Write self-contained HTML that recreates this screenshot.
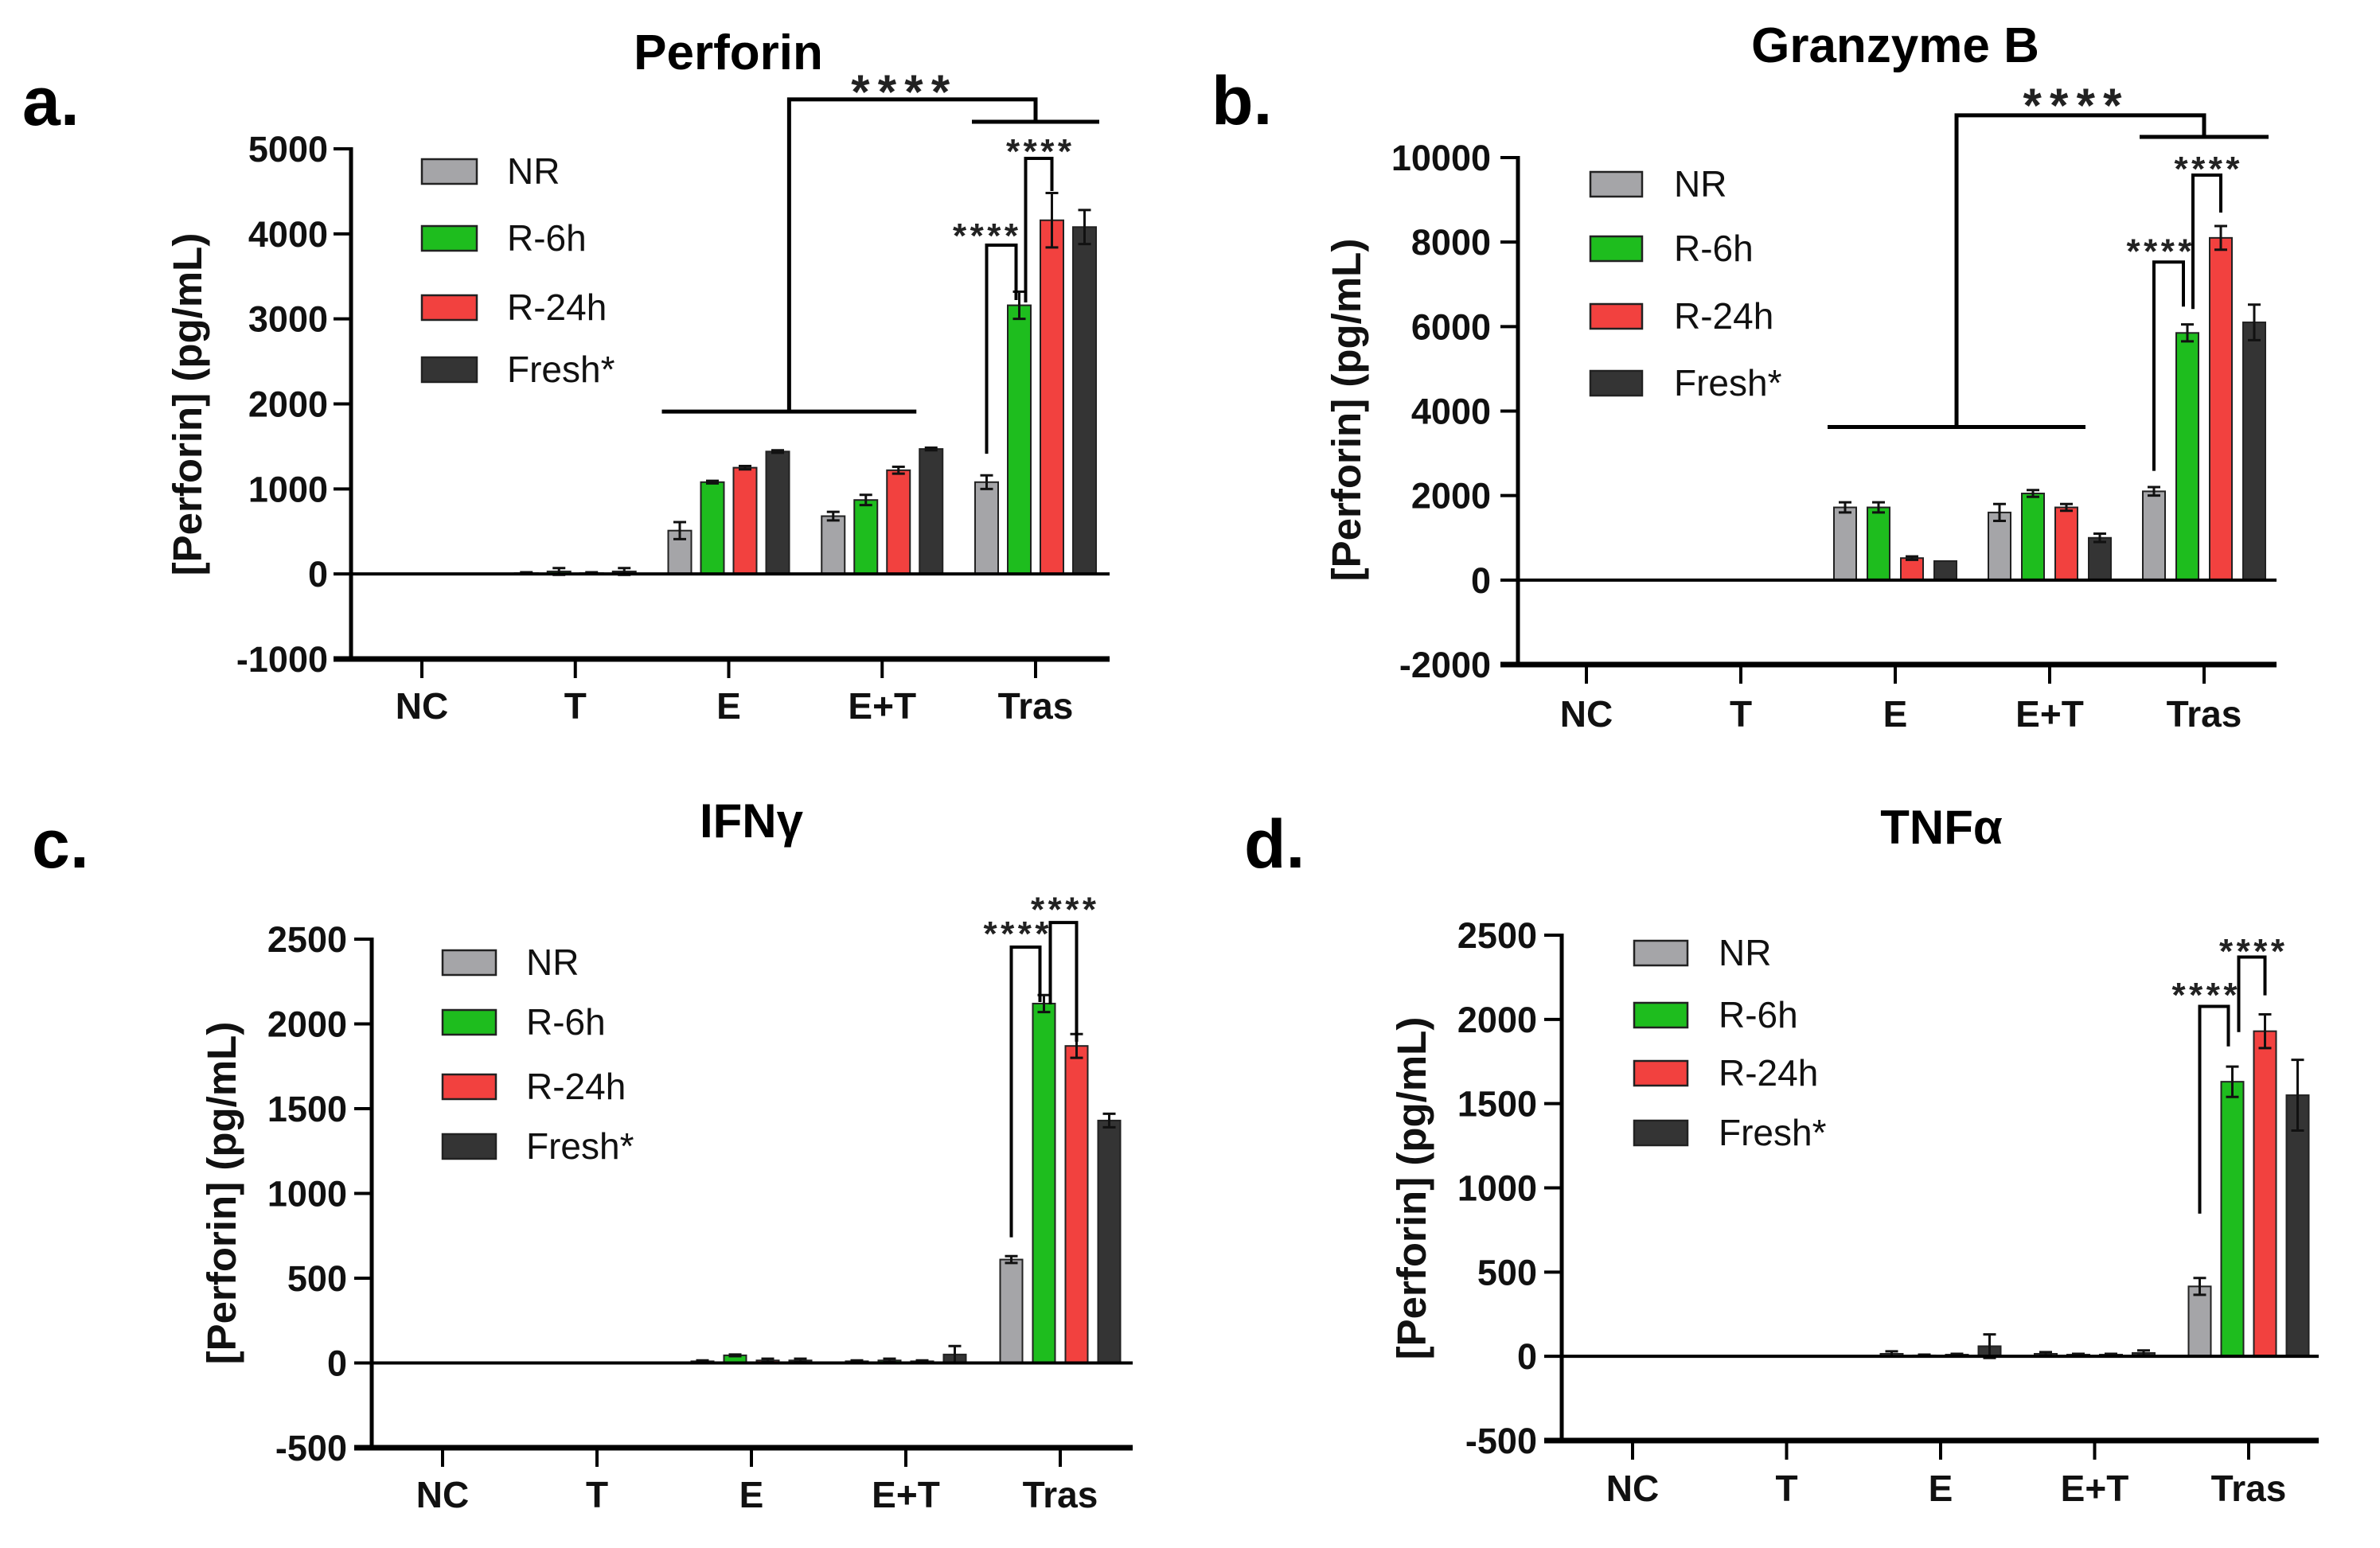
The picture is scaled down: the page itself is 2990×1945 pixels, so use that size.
<!DOCTYPE html>
<html><head><meta charset="utf-8"><style>
html,body{margin:0;padding:0;background:#fff;}
svg{display:block;font-family:"Liberation Sans",Arial,sans-serif;}
</style></head><body>
<svg id="fig" width="2990" height="1945" viewBox="0 0 2990 1945" xmlns="http://www.w3.org/2000/svg"></svg>
<script>
const categories = ["NC","T","E","E+T","Tras"];
const seriesNames = ["NR","R-6h","R-24h","Fresh*"];
const seriesColors = ["#a5a5a8","#1ebd1e","#f2413f","#343434"];

// Perforin
const perforinNR = [0,10,510,680,1080];
const perforinR6 = [0,30,1080,870,3160];
const perforinR24 = [0,10,1250,1220,4160];
const perforinFresh = [0,30,1440,1470,4080];
const perforinErrNR = [0,10,100,50,80];
const perforinErrR6 = [0,40,15,60,160];
const perforinErrR24 = [0,10,20,40,320];
const perforinErrFresh = [0,40,15,15,200];
const perforinTicks = [-1000,0,1000,2000,3000,4000,5000];

// Granzyme B
const granzymeNR = [0,0,1720,1600,2100];
const granzymeR6 = [0,0,1720,2050,5850];
const granzymeR24 = [0,0,520,1720,8100];
const granzymeFresh = [0,0,450,1000,6100];
const granzymeErrNR = [0,0,120,200,100];
const granzymeErrR6 = [0,0,120,80,200];
const granzymeErrR24 = [0,0,40,80,280];
const granzymeErrFresh = [0,0,0,100,420];
const granzymeTicks = [-2000,0,2000,4000,6000,8000,10000];

// IFNy
const ifnNR = [0,0,10,10,610];
const ifnR6 = [0,0,45,15,2120];
const ifnR24 = [0,0,15,10,1870];
const ifnFresh = [0,0,15,50,1430];
const ifnErrNR = [0,0,5,5,20];
const ifnErrR6 = [0,0,5,10,50];
const ifnErrR24 = [0,0,10,5,70];
const ifnErrFresh = [0,0,10,50,40];
const ifnTicks = [-500,0,500,1000,1500,2000,2500];

// TNFa
const tnfNR = [0,0,15,15,415];
const tnfR6 = [0,0,5,10,1630];
const tnfR24 = [0,0,10,10,1930];
const tnfFresh = [0,0,60,20,1550];
const tnfErrNR = [0,0,15,10,50];
const tnfErrR6 = [0,0,5,5,90];
const tnfErrR24 = [0,0,5,5,100];
const tnfErrFresh = [0,0,70,15,210];
const tnfTicks = [-500,0,500,1000,1500,2000,2500];

const NS = "http://www.w3.org/2000/svg";
const svg = document.getElementById("fig");
function mk(tag, attrs, parent, text){
  const e = document.createElementNS(NS, tag);
  for (const k in attrs) e.setAttribute(k, attrs[k]);
  if (text !== undefined) e.textContent = text;
  (parent||svg).appendChild(e);
  return e;
}

const panels = [
 {key:"perforin", letter:"a.", title:"Perforin", series:[perforinNR,perforinR6,perforinR24,perforinFresh],
  errs:[perforinErrNR,perforinErrR6,perforinErrR24,perforinErrFresh], ticks:perforinTicks,
  axisX:441, axisRight:1394, yMaxPx:187, yMinPx:828, firstTick:530, spacing:192.75, barStep:41, barW:29,
  labelRight:412, catBase:903, titleX:915, titleBase:87, titleSize:62, letterX:28, letterBase:157,
  yTitleX:235, yTitleY:508, legX:530, legW:69, legYs:[215,299,386,464], legTextX:637,
  pairs:[{a:[4,0],b:[4,1],dxa:0,dxb:-4,top:3867,la:1414,lb:3221,star:4064,sx:-20},
         {a:[4,1],b:[4,2],dxa:8,dxb:0,top:4888,la:3193,lb:4504,star:5056,sx:0}],
  group:{left:[2,3],right:[4],lowL:1910,lowR:5318,top:5581,star:5787,sx:-15}},
 {key:"granzyme", letter:"b.", title:"Granzyme B", series:[granzymeNR,granzymeR6,granzymeR24,granzymeFresh],
  errs:[granzymeErrNR,granzymeErrR6,granzymeErrR24,granzymeErrFresh], ticks:granzymeTicks,
  axisX:1907, axisRight:2860, yMaxPx:198, yMinPx:835, firstTick:1993, spacing:194, barStep:42, barW:28,
  labelRight:1873, catBase:913, titleX:2381, titleBase:78, titleSize:62, letterX:1522, letterBase:156,
  yTitleX:1691, yTitleY:515, legX:1998, legW:65, legYs:[231,312,397,481], legTextX:2103,
  pairs:[{a:[4,0],b:[4,1],dxa:0,dxb:-5,top:7528,la:2585,lb:6472,star:7962,sx:-12},
         {a:[4,1],b:[4,2],dxa:7,dxb:0,top:9585,la:6415,lb:8698,star:9906,sx:0}],
  group:{left:[2,3],right:[4],lowL:3623,lowR:10490,top:11000,star:11472,sx:-10}},
 {key:"ifn", letter:"c.", title:"IFN\u03b3", series:[ifnNR,ifnR6,ifnR24,ifnFresh],
  errs:[ifnErrNR,ifnErrR6,ifnErrR24,ifnErrFresh], ticks:ifnTicks,
  axisX:467, axisRight:1423, yMaxPx:1180, yMinPx:1819, firstTick:556, spacing:194, barStep:41, barW:28,
  labelRight:436, catBase:1894, titleX:944, titleBase:1052, titleSize:60, letterX:40, letterBase:1090,
  yTitleX:278, yTitleY:1499, legX:556, legW:67, legYs:[1209,1284,1365,1440], legTextX:661,
  pairs:[{a:[4,0],b:[4,1],dxa:0,dxb:-5,top:2453,la:741,lb:2129,star:2575,sx:-12},
         {a:[4,1],b:[4,2],dxa:8,dxb:0,top:2598,la:2115,lb:1895,star:2720,sx:0}],
  group:null},
 {key:"tnf", letter:"d.", title:"TNF\u03b1", series:[tnfNR,tnfR6,tnfR24,tnfFresh],
  errs:[tnfErrNR,tnfErrR6,tnfErrR24,tnfErrFresh], ticks:tnfTicks,
  axisX:1962, axisRight:2913, yMaxPx:1175, yMinPx:1810, firstTick:2051, spacing:193.5, barStep:41, barW:28,
  labelRight:1931, catBase:1886, titleX:2439, titleBase:1060, titleSize:60, letterX:1563, letterBase:1090,
  yTitleX:1773, yTitleY:1493, legX:2053, legW:67, legYs:[1197,1275,1348,1423], legTextX:2159,
  pairs:[{a:[4,0],b:[4,1],dxa:0,dxb:-5,top:2077,la:847,lb:1840,star:2190,sx:-12},
         {a:[4,1],b:[4,2],dxa:8,dxb:0,top:2370,la:1925,lb:2143,star:2450,sx:0}],
  group:null}
];

function drawPanel(p){
  const g = mk("g", {});
  
  
  const tMin = p.ticks[0], tMax = p.ticks[p.ticks.length-1];
  const y = v => p.yMaxPx + (tMax - v) / (tMax - tMin) * (p.yMinPx - p.yMaxPx);
  const xc = i => p.firstTick + i * p.spacing;
  const xb = (i, s) => xc(i) + (s - 1.5) * p.barStep;

  const lt = mk("text", {x:p.letterX, y:p.letterBase, "font-size":86, "font-weight":"bold", fill:"#000"}, g, p.letter);
  
  
  const tt = mk("text", {x:p.titleX, y:p.titleBase, "font-size":p.titleSize, "font-weight":"bold", "text-anchor":"middle", fill:"#000"}, g, p.title);
  
  
  const yt = mk("text", {x:0, y:0, "font-size":51, "font-weight":"bold", "text-anchor":"middle", fill:"#111",
     transform:`translate(${p.yTitleX + 18},${p.yTitleY}) rotate(-90)`}, g, "[Perforin] (pg/mL)");
  
  

  p.series.forEach((vals, s) => {
    vals.forEach((v, i) => {
      if (v === 0 && p.errs[s][i] === 0) return;
      const x = xb(i, s);
      const top = y(Math.max(v,0)), base = y(0);
      const r = mk("rect", {x:x - p.barW/2, y:top, width:p.barW, height:Math.max(base - top, 1),
        fill:seriesColors[s], stroke:"#222", "stroke-width":2}, g);
      
      
      const e = p.errs[s][i];
      if (e > 0){
        const eb = mk("path", {d:`M${x},${y(v - e)}V${y(v + e)}M${x-8},${y(v+e)}H${x+8}M${x-8},${y(v-e)}H${x+8}`,
          stroke:"#111", "stroke-width":3, fill:"none"}, g);
        
        
      }
    });
  });

  const ya = mk("line", {x1:p.axisX, y1:y(tMax) - 2, x2:p.axisX, y2:y(tMin), stroke:"#000", "stroke-width":5}, g);
  
  
  const zl = mk("line", {x1:p.axisX, y1:y(0), x2:p.axisRight, y2:y(0), stroke:"#000", "stroke-width":4}, g);
  
  
  const xa = mk("line", {x1:p.axisX - 22, y1:y(tMin), x2:p.axisRight, y2:y(tMin), stroke:"#000", "stroke-width":7}, g);
  
  
  p.ticks.forEach(t => {
    mk("line", {x1:p.axisX - 22, y1:y(t), x2:p.axisX, y2:y(t), stroke:"#000", "stroke-width":4}, g);
    const tl = mk("text", {x:p.labelRight, y:y(t) + 16, "font-size":45, "font-weight":"bold", "text-anchor":"end", fill:"#111"}, g, String(t));
    
    
  });
  categories.forEach((c, i) => {
    mk("line", {x1:xc(i), y1:y(tMin), x2:xc(i), y2:y(tMin) + 24, stroke:"#000", "stroke-width":4}, g);
    const cl = mk("text", {x:xc(i), y:p.catBase, "font-size":46, "font-weight":"bold", "text-anchor":"middle", fill:"#111"}, g, c);
    
    
  });

  seriesNames.forEach((n, s) => {
    const le = mk("g", {}, g);
    
    
    mk("rect", {x:p.legX, y:p.legYs[s] - 15, width:p.legW, height:31, fill:seriesColors[s], stroke:"#222", "stroke-width":2.5}, le);
    mk("text", {x:p.legTextX, y:p.legYs[s] + 16, "font-size":46, fill:"#111"}, le, n);
  });

  const stars = (cx, v, size, w) => {
    const st = mk("text", {x:cx - w/2, y:y(v) + size*0.55, "font-size":size, "font-weight":"bold", fill:"#222",
      textLength:w, lengthAdjust:"spacing"}, g, "****");
    
    
  };
  p.pairs.forEach(b => {
    const x1 = xb(b.a[0], b.a[1]) + b.dxa, x2 = xb(b.b[0], b.b[1]) + b.dxb;
    const br = mk("path", {d:`M${x1},${y(b.la)}V${y(b.top)}H${x2}V${y(b.lb)}`, stroke:"#000", "stroke-width":4, fill:"none"}, g);
    
    
    stars((x1 + x2)/2 + b.sx, b.star, 44, 82);
  });
  if (p.group){
    const gr = p.group;
    const lx1 = xb(gr.left[0], 0) - p.barW/2 - 8, lx2 = xb(gr.left[gr.left.length-1], 3) - p.barW/2 - 4;
    const rx1 = xb(gr.right[0], 0) - p.barW/2 - 4, rx2 = xb(gr.right[0], 3) + p.barW/2 + 4;
    const lm = (lx1 + lx2)/2, rm = (rx1 + rx2)/2;
    const gp = mk("path", {d:`M${lx1},${y(gr.lowL)}H${lx2}M${lm},${y(gr.lowL)}V${y(gr.top)}H${rm}V${y(gr.lowR)}M${rx1},${y(gr.lowR)}H${rx2}`,
      stroke:"#000", "stroke-width":5, fill:"none"}, g);
    
    
    stars((lm + rm)/2 + gr.sx, gr.star, 60, 124);
  }
}
panels.forEach(drawPanel);
</script>
</body></html>
